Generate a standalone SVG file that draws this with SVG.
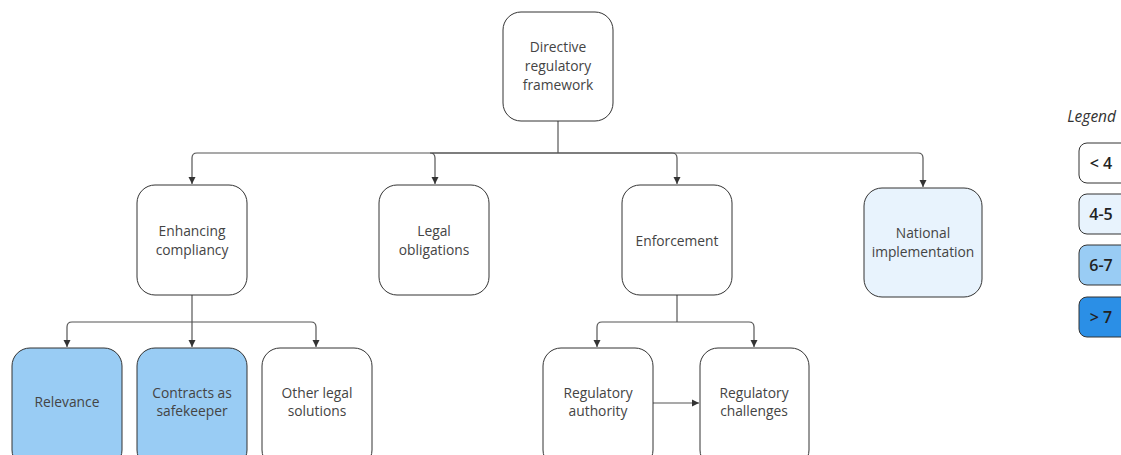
<svg xmlns="http://www.w3.org/2000/svg" width="1121" height="455" viewBox="0 0 1121 455">
<defs>
<marker id="arr" markerWidth="8" markerHeight="8" refX="7" refY="4" orient="auto" markerUnits="userSpaceOnUse">
<path d="M0,0.5 L7,4 L0,7.5 z" fill="#333"/>
</marker>
<style>
.n{stroke:#333;stroke-width:1;fill:#fff}
.l1{fill:#E8F3FD}
.l2{fill:#99CCF4}
.l3{fill:#2B8FE6}
.t{font-family:"Open Sans","Noto Sans",sans-serif;font-size:13.8px;fill:#444;text-anchor:middle}
.lg{font-family:"Open Sans","Noto Sans",sans-serif;font-size:16px;font-weight:600;fill:#222;text-anchor:middle}
.c{fill:none;stroke:#555;stroke-width:1.2}
</style>
</defs>
<rect width="1121" height="455" fill="#fff"/>
<g id="connectors">
<path class="c" d="M558,121 V153"/>
<path class="c" d="M558,153 H197 Q192,153 192,158 V184" marker-end="url(#arr)"/>
<path class="c" d="M558,153 H430 Q435,153 435,158 V184" marker-end="url(#arr)"/>
<path class="c" d="M558,153 H672 Q677,153 677,158 V184" marker-end="url(#arr)"/>
<path class="c" d="M558,153 H918 Q923,153 923,158 V187" marker-end="url(#arr)"/>
<path class="c" d="M192,295 V322"/>
<path class="c" d="M192,322 H72 Q67,322 67,327 V347" marker-end="url(#arr)"/>
<path class="c" d="M192,322 V347" marker-end="url(#arr)"/>
<path class="c" d="M192,322 H311 Q316,322 316,327 V347" marker-end="url(#arr)"/>
<path class="c" d="M677,295 V322"/>
<path class="c" d="M677,322 H602 Q597,322 597,327 V347" marker-end="url(#arr)"/>
<path class="c" d="M677,322 H749 Q754,322 754,327 V347" marker-end="url(#arr)"/>
<path class="c" d="M653,403 H699" marker-end="url(#arr)"/>
</g>
<g id="n-directive"><rect class="n" x="503" y="12" width="110" height="109" rx="18"/>
<text class="t" x="558" y="52">Directive</text><text class="t" x="558" y="71">regulatory</text><text class="t" x="558" y="90">framework</text></g>
<g id="n-enhancing"><rect class="n" x="137" y="185" width="110" height="110" rx="18"/>
<text class="t" x="192" y="236">Enhancing</text><text class="t" x="192" y="255">compliancy</text></g>
<g id="n-legal"><rect class="n" x="379" y="185" width="110" height="110" rx="18"/>
<text class="t" x="434" y="236">Legal</text><text class="t" x="434" y="255">obligations</text></g>
<g id="n-enforcement"><rect class="n" x="622" y="185" width="110" height="110" rx="18"/>
<text class="t" x="677" y="246">Enforcement</text></g>
<g id="n-national"><rect class="n l1" x="864" y="188" width="118" height="109" rx="18"/>
<text class="t" x="923" y="238">National</text><text class="t" x="923" y="257">implementation</text></g>
<g id="n-relevance"><rect class="n l2" x="12" y="348" width="110" height="120" rx="18"/>
<text class="t" x="67" y="407">Relevance</text></g>
<g id="n-contracts"><rect class="n l2" x="137" y="348" width="110" height="120" rx="18"/>
<text class="t" x="192" y="398">Contracts as</text><text class="t" x="192" y="416">safekeeper</text></g>
<g id="n-other"><rect class="n" x="262" y="348" width="110" height="120" rx="18"/>
<text class="t" x="317" y="398">Other legal</text><text class="t" x="317" y="416">solutions</text></g>
<g id="n-authority"><rect class="n" x="543" y="348" width="110" height="120" rx="18"/>
<text class="t" x="598" y="398">Regulatory</text><text class="t" x="598" y="416">authority</text></g>
<g id="n-challenges"><rect class="n" x="700" y="348" width="109" height="120" rx="18"/>
<text class="t" x="754" y="398">Regulatory</text><text class="t" x="754" y="416">challenges</text></g>
<g id="legend">
<text x="1116" y="122" font-family="'Open Sans','Noto Sans',sans-serif" font-size="15.5" font-style="italic" fill="#333" text-anchor="end">Legend</text>
<rect class="n" x="1079" y="143" width="50" height="40" rx="8"/>
<text class="lg" x="1101" y="169">&lt; 4</text>
<rect class="n l1" x="1079" y="194" width="50" height="40" rx="8"/>
<text class="lg" x="1101" y="220">4-5</text>
<rect class="n l2" x="1079" y="245" width="50" height="40" rx="8"/>
<text class="lg" x="1101" y="271">6-7</text>
<rect class="n l3" x="1079" y="297" width="50" height="40" rx="8"/>
<text class="lg" x="1101" y="323">&gt; 7</text>
</g>
</svg>
